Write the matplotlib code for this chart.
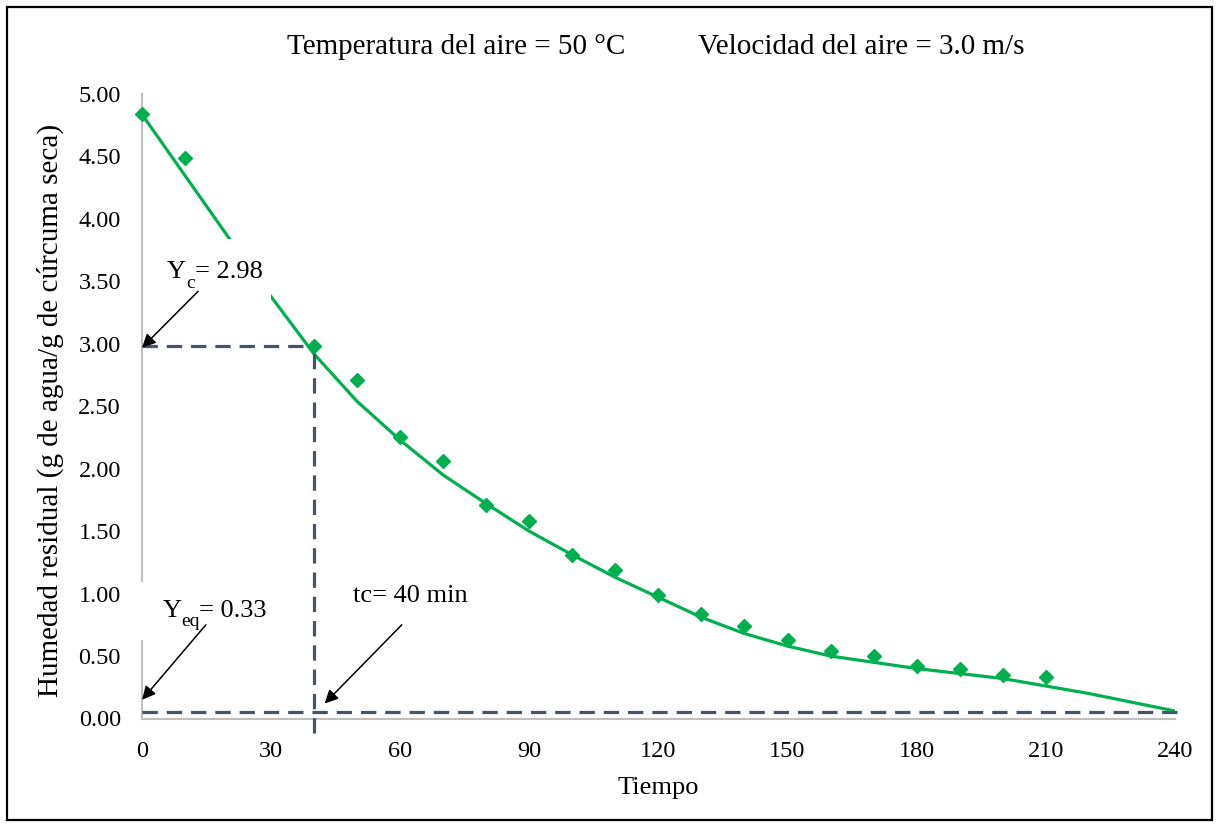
import matplotlib
matplotlib.use("Agg")
import matplotlib.pyplot as plt
from matplotlib.patches import Rectangle

plt.rcParams['font.family'] = ['Liberation Serif', 'DejaVu Serif']

# Measured drying data (time in min, residual moisture)
t_meas = [0, 10, 40, 50, 60, 70, 80, 90, 100, 110, 120, 130, 140, 150,
          160, 170, 180, 190, 200, 210]
y_meas = [4.84, 4.49, 2.98, 2.71, 2.25, 2.06, 1.71, 1.58, 1.31, 1.19, 0.99,
          0.84, 0.74, 0.625, 0.54, 0.50, 0.42, 0.40, 0.345, 0.33]

# Fitted drying curve
t_fit = [0, 10, 20, 30, 40, 50, 60, 70, 80, 90, 100, 110, 120, 130, 140,
         150, 160, 170, 180, 190, 200, 210, 220, 230, 240]
y_fit = [4.84, 4.35, 3.86, 3.38, 2.92, 2.54, 2.23, 1.95, 1.72, 1.50, 1.31,
         1.13, 0.97, 0.81, 0.68, 0.58, 0.50, 0.45, 0.40, 0.36, 0.32, 0.26,
         0.20, 0.13, 0.06]

# Critical point and equilibrium level
t_c = 40
y_c = 2.98
y_eq = 0.33
y_floor = 0.05

x_ticks = [0, 30, 60, 90, 120, 150, 180, 210, 240]
y_ticks = [0.0, 0.5, 1.0, 1.5, 2.0, 2.5, 3.0, 3.5, 4.0, 4.5, 5.0]

W, H = 1218, 827
fig = plt.figure(figsize=(W / 100, H / 100), dpi=100)
ax = fig.add_axes([141.7 / W, 1 - 718.5 / H, (1175 - 141.7) / W, (718.5 - 94) / H])

green = '#00B050'
slate = '#44546A'

ax.plot(t_fit, y_fit, color=green, lw=2.3, zorder=2, solid_capstyle='butt')
ax.plot(t_meas, y_meas, linestyle='none', marker='D', ms=7.5, color=green,
        zorder=4, clip_on=False)

dash = dict(color=slate, lw=2.3, dashes=(4.8, 2.8), zorder=3, clip_on=False)
ax.plot([0, t_c], [y_c, y_c], **dash)
ax.plot([t_c, t_c], [-0.12, y_c], **dash)
ax.plot([0, 241], [y_floor, y_floor], **dash)

ax.set_xlim(0, 240)
ax.set_ylim(0, 5)
ax.set_xticks(x_ticks)
ax.set_yticks(y_ticks)
ax.set_yticklabels([f'{v:.2f}' for v in y_ticks])
ax.tick_params(axis='both', length=0, labelsize=17.5)
ax.tick_params(axis='y', pad=15)
ax.tick_params(axis='x', pad=16)

for side in ('top', 'right'):
    ax.spines[side].set_visible(False)
for side in ('left', 'bottom'):
    ax.spines[side].set_color('#BFBFBF')
    ax.spines[side].set_linewidth(1.5)

ax.set_xlabel('Tiempo', fontsize=19)
ax.xaxis.set_label_coords(0.4997, -0.1115)
ax.xaxis.label.set_va('center')
ax.set_ylabel('Humedad residual (g de agua/g de cúrcuma seca)', fontsize=21)
ax.yaxis.set_label_coords(-0.0887, 0.494)
ax.yaxis.label.set_va('center')

# White backing panels behind the annotation labels
ax.add_patch(Rectangle((1.9, 3.36), 28.1, 0.48, facecolor='white',
                       edgecolor='none', zorder=2.6, clip_on=False))
ax.add_patch(Rectangle((-1.0, 0.63), 31.0, 0.46, facecolor='white',
                       edgecolor='none', zorder=2.6, clip_on=False))

# Labels with lowered subscripts
lbl = dict(fontsize=19, ha='left', va='baseline', zorder=5)
sub = dict(fontsize=14, ha='left', va='baseline', zorder=5)
ax.text(5.9, 3.53, 'Y', **lbl)
ax.text(10.3, 3.45, 'c', **sub)
ax.text(12.3, 3.53, f'= {y_c:.2f}', **lbl)

ax.text(4.9, 0.81, 'Y', **lbl)
ax.text(9.3, 0.74, 'eq', **sub)
ax.text(13.2, 0.81, f'= {y_eq:.2f}', **lbl)

ax.text(49.0, 0.93, f'tc= {t_c} min', **lbl)

arrow = dict(arrowstyle='-|>', color='black', lw=1.1, mutation_scale=20,
             shrinkA=0, shrinkB=0)
ax.annotate('', xy=(0.1, 2.97), xytext=(13.1, 3.42), arrowprops=arrow,
            zorder=6, annotation_clip=False)
ax.annotate('', xy=(0.1, 0.15), xytext=(14.9, 0.75), arrowprops=arrow,
            zorder=6, annotation_clip=False)
ax.annotate('', xy=(42.5, 0.12), xytext=(60.4, 0.75), arrowprops=arrow,
            zorder=6, annotation_clip=False)

fig.text(287 / W, 1 - 47 / H, 'Temperatura del aire = 50 °C', fontsize=21,
         ha='left', va='center')
fig.text(698 / W, 1 - 47 / H, 'Velocidad del aire = 3.0 m/s', fontsize=21,
         ha='left', va='center')

fig.patches.append(Rectangle((7 / W, 7 / H), (1212 - 7) / W, (820 - 7) / H,
                             transform=fig.transFigure, fill=False,
                             edgecolor='black', lw=1.6))

fig.savefig('out.png', dpi=100)
